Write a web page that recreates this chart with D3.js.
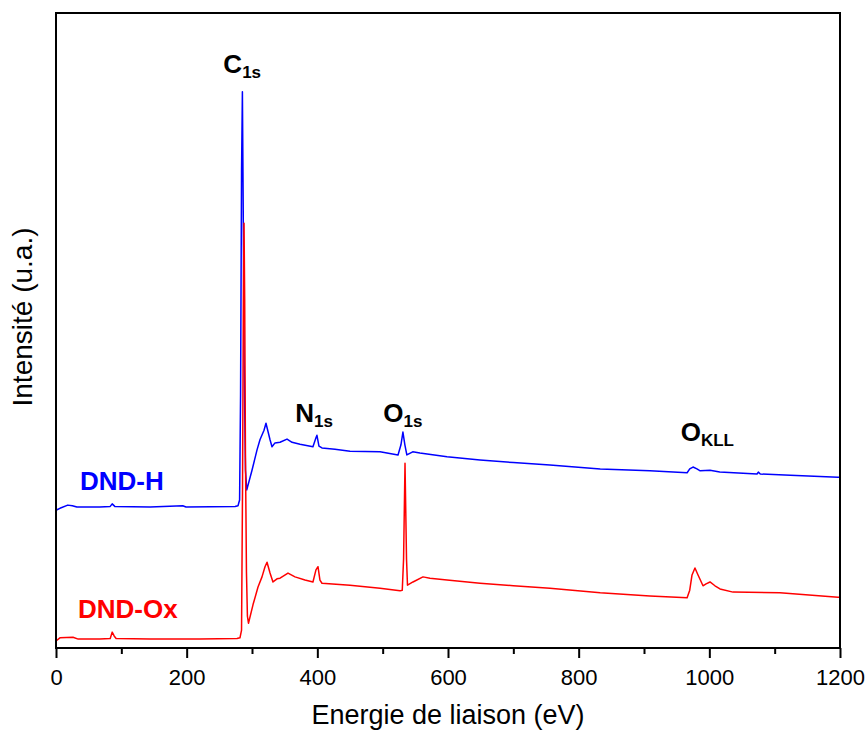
<!DOCTYPE html>
<html>
<head>
<meta charset="utf-8">
<script src="https://cdn.jsdelivr.net/npm/d3@7"></script>
<style>
  html, body { margin: 0; padding: 0; background: #fff; }
  svg { display: block; font-family: "Liberation Sans", Arial, sans-serif; }
</style>
</head>
<body>
<svg id="chart" width="865" height="731"></svg>
<script>
// ---------- data ----------
const xTicks = [0, 200, 400, 600, 800, 1000, 1200];
const xMinorTicks = [100, 300, 500, 700, 900, 1100];
const xLabel = "Energie de liaison (eV)";
const yLabel = "Intensité (u.a.)";

// DND-H spectrum (binding energy eV, intensity a.u.)
const dndH_E = [0, 6, 18, 25, 32, 67, 83, 86, 90, 144, 194, 199, 274, 278.6, 281, 282.5, 284, 285.3, 286.5, 288, 290, 292,
  300, 307.7, 312.2, 318.4, 321.4, 327.6, 330.6, 335.2, 342.9, 353.6, 361.3, 373.5, 393.3, 397.9, 399.4, 402.5, 407.1,
  427, 450, 496, 523.5, 528, 531, 534, 537, 546, 557, 598.5, 649, 700, 756, 833, 909, 966, 970, 975, 981, 986,
  1001, 1016, 1073, 1075, 1078, 1124, 1197, 1200];
const dndH_I = [21.7, 22.0, 22.5, 22.4, 22.2, 22.2, 22.3, 22.7, 22.3, 22.2, 22.4, 22.2, 22.3, 22.4, 23.3, 40, 75, 87.6, 70, 45, 28, 24.9,
  28.0, 31.2, 32.8, 34.3, 35.4, 32.8, 31.7, 32.3, 32.4, 32.9, 32.4, 32.1, 31.7, 33.1, 33.5, 31.8, 31.5,
  31.3, 31.0, 30.9, 30.4, 32.0, 34.0, 32.0, 30.4, 30.9, 30.7, 30.1, 29.6, 29.2, 28.8, 28.2, 27.9, 27.6, 28.2, 28.5, 28.2, 27.9,
  28.0, 27.7, 27.4, 27.7, 27.4, 27.2, 26.9, 26.9];

// DND-Ox spectrum
const dndOx_E = [0, 6, 26, 34, 41, 67, 83, 86, 89, 92, 144, 220, 277, 281.6, 284, 285.5, 286.8, 287.8, 288.8, 290, 291.5, 293, 294.6,
  301.5, 309.2, 315.3, 319.9, 323, 327.6, 332.1, 338.3, 342.9, 355.1, 365.8, 381.1, 393.3, 397.9, 401, 404, 407.1,
  450, 496, 526.5, 530, 532, 534.2, 536.5, 538, 546.4, 561.7, 572.4, 598.5, 649, 700, 756, 833, 909, 966, 970, 973.5, 978,
  982.7, 990.3, 995, 1001, 1008.6, 1016.3, 1036.2, 1108, 1197, 1200];
const dndOx_I = [1.1, 1.6, 1.7, 1.4, 1.4, 1.4, 1.5, 2.5, 1.9, 1.5, 1.4, 1.4, 1.5, 1.6, 2.8, 25, 55, 66.9, 55, 30, 12, 5, 3.9,
  6.8, 9.6, 11.2, 12.8, 13.5, 11.8, 10.4, 10.9, 11.0, 11.8, 11.2, 10.7, 10.4, 12.3, 12.8, 10.7, 10.2,
  9.9, 9.4, 9.0, 9.1, 14, 29.1, 14, 9.9, 10.4, 11.2, 11.0, 10.7, 10.2, 9.8, 9.4, 8.7, 8.2, 7.9, 9.1, 11.5, 12.6,
  11.5, 9.8, 10.1, 10.4, 9.8, 9.3, 8.8, 8.7, 8.0, 8.0];

const seriesNames = ["DND-H", "DND-Ox"];
const seriesColors = ["#0000ff", "#ff0000"];
// series label anchor (eV, intensity)
const seriesLabelE = [36.7, 33.7];
const seriesLabelI = [24.9, 4.7];

// peak annotations: main letter, subscript, anchor energy, anchor intensity
const peakMain = ["C", "N", "O", "O"];
const peakSub = ["1s", "1s", "1s", "KLL"];
const peakE = [285, 395, 531, 997];
const peakI = [90.6, 35.6, 35.6, 32.6];

// ---------- layout ----------
const W = 865, H = 731;
const m = { left: 56, right: 25, top: 13, bottom: 83 };
const svg = d3.select("#chart");
const x = d3.scaleLinear().domain([0, 1200]).range([m.left, W - m.right]);
const y = d3.scaleLinear().domain([0, 100]).range([H - m.bottom, m.top]);

svg.append("defs").append("clipPath").attr("id", "clip")
  .append("rect").attr("x", x(0)).attr("y", y(100)).attr("width", x(1200) - x(0)).attr("height", y(0) - y(100));

const line = d3.line().x(d => x(d[0])).y(d => y(d[1]));
const series = [
  d3.zip(dndH_E, dndH_I),
  d3.zip(dndOx_E, dndOx_I)
];

const g = svg.append("g").attr("clip-path", "url(#clip)");
series.forEach((s, i) => {
  g.append("path").datum(s)
    .attr("fill", "none")
    .attr("stroke", seriesColors[i])
    .attr("stroke-width", 1.5)
    .attr("stroke-linejoin", "round")
    .attr("d", line);
});

// frame
svg.append("rect")
  .attr("x", x(0)).attr("y", y(100))
  .attr("width", x(1200) - x(0)).attr("height", y(0) - y(100))
  .attr("fill", "none").attr("stroke", "#000").attr("stroke-width", 2);

// bottom axis major
const axMaj = d3.axisBottom(x).tickValues(xTicks).tickSize(10).tickPadding(11).tickFormat(d3.format("d"));
const gx = svg.append("g").attr("transform", `translate(0,${y(0)})`).call(axMaj);
gx.select(".domain").remove();
gx.selectAll(".tick line").attr("stroke", "#000").attr("stroke-width", 2);
gx.selectAll(".tick text").attr("font-size", 22).attr("fill", "#000")
  .attr("font-family", "'Liberation Sans', Arial, sans-serif");

// minor ticks
const axMin = d3.axisBottom(x).tickValues(xMinorTicks).tickSize(6).tickFormat("");
const gm = svg.append("g").attr("transform", `translate(0,${y(0)})`).call(axMin);
gm.select(".domain").remove();
gm.selectAll(".tick line").attr("stroke", "#000").attr("stroke-width", 2);

// axis titles
svg.append("text")
  .attr("x", (x(0) + x(1200)) / 2).attr("y", 724)
  .attr("text-anchor", "middle").attr("font-size", 27).attr("fill", "#000")
  .text(xLabel);

svg.append("text")
  .attr("transform", `translate(32,317) rotate(-90)`)
  .attr("text-anchor", "middle").attr("font-size", 28).attr("fill", "#000")
  .text(yLabel);

// series labels
seriesNames.forEach((n, i) => {
  svg.append("text")
    .attr("x", x(seriesLabelE[i])).attr("y", y(seriesLabelI[i]))
    .attr("font-size", 26).attr("font-weight", "bold").attr("fill", seriesColors[i])
    .text(n);
});

// peak labels
peakMain.forEach((p, i) => {
  const t = svg.append("text")
    .attr("x", x(peakE[i])).attr("y", y(peakI[i]))
    .attr("text-anchor", "middle").attr("font-weight", "bold").attr("fill", "#000")
    .attr("font-size", 26);
  t.append("tspan").text(p);
  t.append("tspan").attr("font-size", 17).attr("dy", 5).text(peakSub[i]);
});
</script>
</body>
</html>
